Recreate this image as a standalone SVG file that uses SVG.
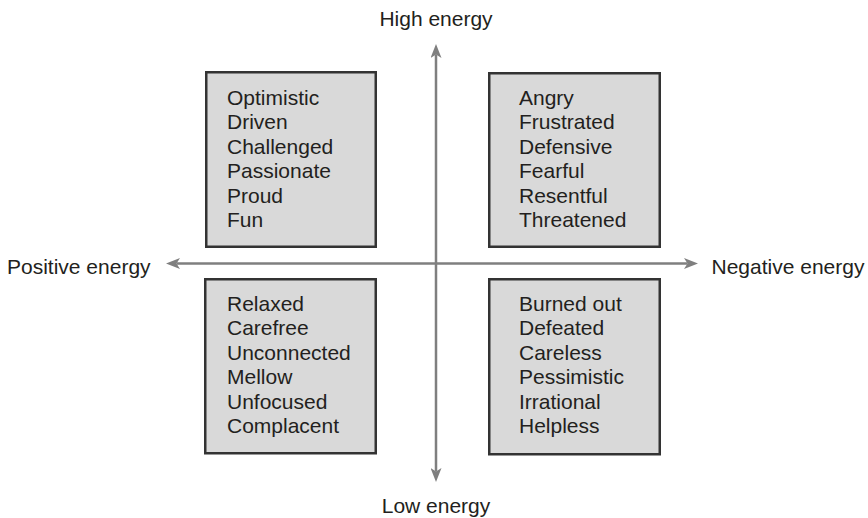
<svg xmlns="http://www.w3.org/2000/svg" width="868" height="518" viewBox="0 0 868 518">
  <defs>
    <!-- notched arrowhead; refX sits at the notch so the line ends inside the head -->
    <marker id="arrow" markerUnits="userSpaceOnUse" markerWidth="14" markerHeight="11" viewBox="0 0 14 11" refX="3.5" refY="5.5" orient="auto-start-reverse">
      <path d="M0,0 L14,5.5 L0,11 L3.5,5.5 Z" fill="#7f7f7f"/>
    </marker>
    <style>
      .box { fill: #d9d9d9; stroke: #333333; stroke-width: 2.5; }
      .txt { font-family: "Liberation Sans", Arial, sans-serif; font-size: 21px; fill: #231f20; }
      .axis { stroke: #7f7f7f; stroke-width: 2.5; fill: none; }
    </style>
  </defs>

  <rect width="868" height="518" fill="#ffffff"/>

  <!-- axes -->
  <g id="connectors">
    <line class="axis" x1="176.5" y1="263.5" x2="687.5" y2="263.5" marker-start="url(#arrow)" marker-end="url(#arrow)"/>
    <line class="axis" x1="436" y1="54.5" x2="436" y2="471.5" marker-start="url(#arrow)" marker-end="url(#arrow)"/>
  </g>

  <!-- axis labels -->
  <g id="label-high"><text class="txt" x="436" y="25.5" text-anchor="middle">High energy</text></g>
  <g id="label-low"><text class="txt" x="436" y="513" text-anchor="middle">Low energy</text></g>
  <g id="label-positive"><text class="txt" x="7" y="274">Positive energy</text></g>
  <g id="label-negative"><text class="txt" x="711.5" y="274">Negative energy</text></g>

  <!-- quadrant: high / positive -->
  <g id="quad-high-positive">
    <rect class="box" x="206.25" y="72.25" width="169.5" height="174.5"/>
    <text class="txt" x="227">
      <tspan x="227" y="105">Optimistic</tspan>
      <tspan x="227" y="129.4">Driven</tspan>
      <tspan x="227" y="153.8">Challenged</tspan>
      <tspan x="227" y="178.2">Passionate</tspan>
      <tspan x="227" y="202.6">Proud</tspan>
      <tspan x="227" y="227">Fun</tspan>
    </text>
  </g>

  <!-- quadrant: high / negative -->
  <g id="quad-high-negative">
    <rect class="box" x="489.25" y="73.25" width="170.5" height="173.5"/>
    <text class="txt">
      <tspan x="519" y="105">Angry</tspan>
      <tspan x="519" y="129.4">Frustrated</tspan>
      <tspan x="519" y="153.8">Defensive</tspan>
      <tspan x="519" y="178.2">Fearful</tspan>
      <tspan x="519" y="202.6">Resentful</tspan>
      <tspan x="519" y="227">Threatened</tspan>
    </text>
  </g>

  <!-- quadrant: low / positive -->
  <g id="quad-low-positive">
    <rect class="box" x="205.25" y="279.25" width="170.5" height="174"/>
    <text class="txt">
      <tspan x="227" y="311">Relaxed</tspan>
      <tspan x="227" y="335.4">Carefree</tspan>
      <tspan x="227" y="359.8">Unconnected</tspan>
      <tspan x="227" y="384.2">Mellow</tspan>
      <tspan x="227" y="408.6">Unfocused</tspan>
      <tspan x="227" y="433">Complacent</tspan>
    </text>
  </g>

  <!-- quadrant: low / negative -->
  <g id="quad-low-negative">
    <rect class="box" x="489.25" y="279.25" width="170.5" height="175"/>
    <text class="txt">
      <tspan x="519" y="311">Burned out</tspan>
      <tspan x="519" y="335.4">Defeated</tspan>
      <tspan x="519" y="359.8">Careless</tspan>
      <tspan x="519" y="384.2">Pessimistic</tspan>
      <tspan x="519" y="408.6">Irrational</tspan>
      <tspan x="519" y="433">Helpless</tspan>
    </text>
  </g>
</svg>
